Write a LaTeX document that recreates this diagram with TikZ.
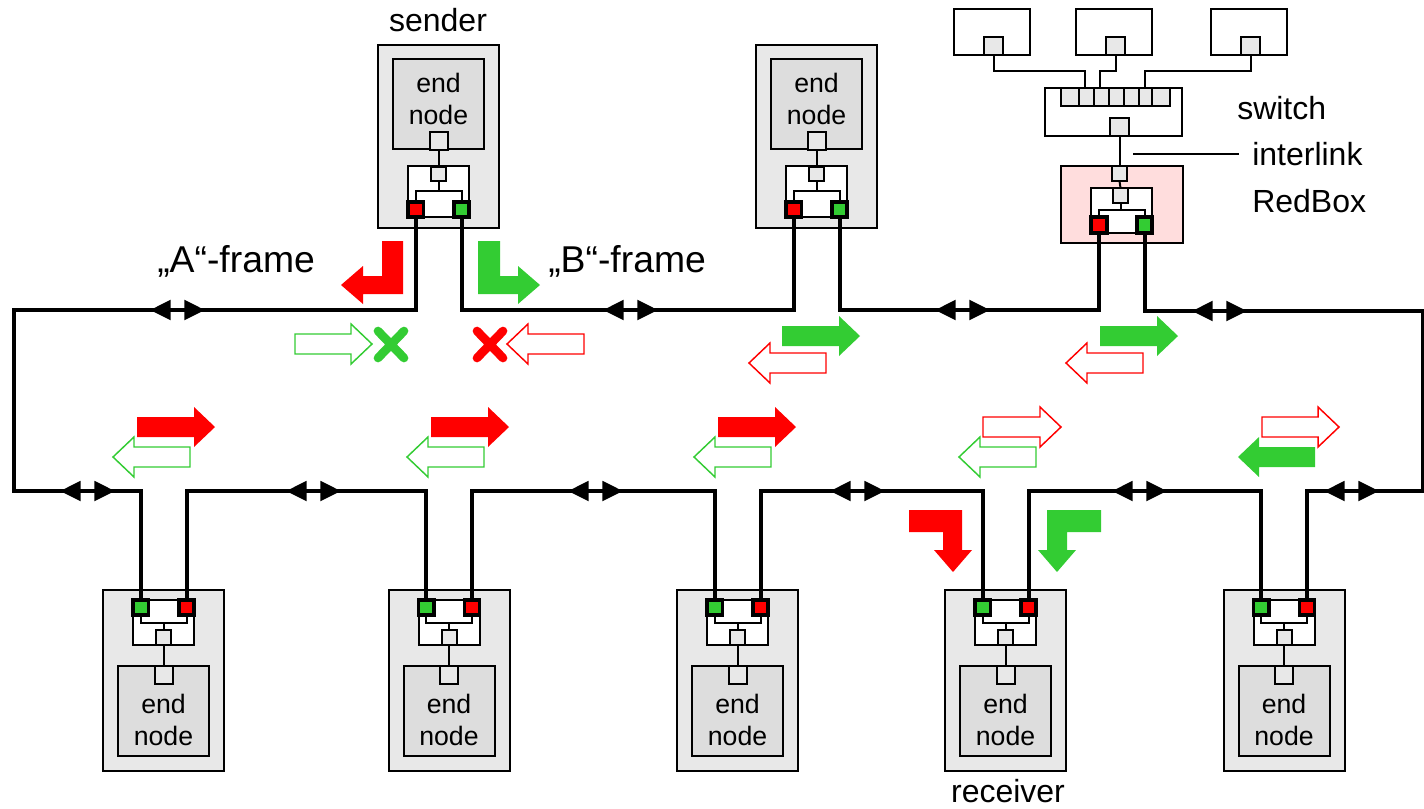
\documentclass[tikz,border=0pt]{standalone}
\usepackage{fontspec}
\setmainfont{Liberation Sans}
\usetikzlibrary{arrows.meta,calc}
\definecolor{hred}{HTML}{FF0000}
\definecolor{hgreen}{HTML}{33CC33}
\definecolor{outerg}{HTML}{E8E8E8}
\definecolor{endg}{HTML}{DDDDDD}
\definecolor{rbox}{HTML}{FFDDDD}
\tikzset{
  bx/.style={draw=black,line width=1.5pt,inner sep=0pt,outer sep=0pt},
  outerbox/.style={bx,fill=outerg},
  endbox/.style={bx,fill=endg},
  whitebox/.style={bx,fill=white},
  port/.style={bx,fill=outerg},
  redport/.style={bx,fill=hred,line width=2.3pt},
  greenport/.style={bx,fill=hgreen,line width=2.3pt},
  redboxbg/.style={bx,fill=rbox},
  wire/.style={draw=black,line width=1.5pt},
  ring/.style={draw=black,line width=3pt,line join=miter},
  dblarrow/.style={draw=black,line width=3pt,{Triangle[length=15.5pt,width=14.5pt]}-{Triangle[length=15.5pt,width=14.5pt]}},
  solidred/.style={fill=hred},
  solidgreen/.style={fill=hgreen},
  openred/.style={draw=hred,fill=white,line width=1.1pt},
  opengreen/.style={draw=hgreen,fill=white,line width=1.1pt},
  endtext/.style={align=center,inner sep=0pt,font=\fontsize{20}{24}\selectfont},
  label/.style={inner sep=0pt,font=\fontsize{24}{28}\selectfont},
  framelabel/.style={inner sep=0pt,font=\fontsize{28}{32}\selectfont},
}
% #1 name, #2-#5 x1 y1 x2 y2, #6 style
\newcommand{\bxn}[6]{\node[#6,minimum width={((#4)-(#2))*0.75pt},minimum height={((#5)-(#3))*0.75pt}] (#1) at ({((#2)+(#4))/2},{((#3)+(#5))/2}) {};}
\newcommand{\rarr}[4]{\path[#4] (#1,{#3-10}) -- ({#2-21},{#3-10}) -- ({#2-21},{#3-20}) -- (#2,#3) -- ({#2-21},{#3+20}) -- ({#2-21},{#3+10}) -- (#1,{#3+10}) -- cycle;}
\newcommand{\larr}[4]{\path[#4] (#2,{#3-10}) -- ({#1+21},{#3-10}) -- ({#1+21},{#3-20}) -- (#1,#3) -- ({#1+21},{#3+20}) -- ({#1+21},{#3+10}) -- (#2,{#3+10}) -- cycle;}
\newcommand{\crossm}[2]{\draw[#2,line width=6.5pt,line cap=round] ({#1-13},331) -- ({#1+13},358) ({#1+13},331) -- ({#1-13},358);}
\newcommand{\dbl}[3]{\coordinate (#1a) at ({#2-2},#3); \coordinate (#1b) at ({#2+53},#3); \draw[dblarrow] (#1a) -- (#1b);}
% top node: name, centre x
\newcommand{\topnode}[2]{%
  \bxn{#1-o}{#2-60.5}{45}{#2+60.5}{228}{outerbox}
  \bxn{#1-e}{#2-45.5}{59}{#2+45.5}{149}{endbox}
  \node[endtext] (#1-t) at (#2,99) {end\\node};
  \bxn{#1-p}{#2-9}{132}{#2+9}{150}{port}
  \bxn{#1-w}{#2-30.5}{166}{#2+30.5}{217}{whitebox}
  \coordinate (#1-j) at (#2,191);
  \bxn{#1-l}{#2-30.5}{202}{#2-15}{217}{redport}
  \bxn{#1-r}{#2+15.5}{202}{#2+30.5}{217}{greenport}
  \draw[wire] (#1-l.north) |- (#1-j) -| (#1-r.north);
  \bxn{#1-s}{#2-7.5}{167}{#2+7.5}{181}{port}
  \draw[wire] (#1-s.south) -- (#1-j);
  \draw[wire] (#1-p.south) -- (#1-s.north);
}
% bottom node: name, centre x
\newcommand{\botnode}[2]{%
  \bxn{#1-o}{#2-60.5}{590}{#2+60.5}{771}{outerbox}
  \bxn{#1-e}{#2-45.5}{666}{#2+45.5}{756}{endbox}
  \node[endtext] (#1-t) at (#2,720) {end\\node};
  \bxn{#1-p}{#2-9}{666}{#2+9}{684}{port}
  \bxn{#1-w}{#2-30.5}{600}{#2+30.5}{645}{whitebox}
  \coordinate (#1-j) at (#2,623);
  \bxn{#1-l}{#2-30.5}{600}{#2-15}{615}{greenport}
  \bxn{#1-r}{#2+15.5}{600}{#2+30.5}{615}{redport}
  \draw[wire] (#1-l.south) |- (#1-j) -| (#1-r.south);
  \bxn{#1-s}{#2-7.5}{630}{#2+7.5}{645}{port}
  \draw[wire] (#1-s.north) -- (#1-j);
  \draw[wire] (#1-s.south) -- (#1-p.north);
}
\begin{document}
\begin{tikzpicture}[x=0.75pt,y=-0.75pt]
\useasboundingbox (0,0) rectangle (1424,808);
% nodes
\topnode{a}{438.5}
\topnode{b}{816.5}
\botnode{n1}{163.5}
\botnode{n2}{449}
\botnode{n3}{737.5}
\botnode{n4}{1005.5}
\botnode{n5}{1284}
% RedBox
\bxn{rb-o}{1061}{166}{1183}{243}{redboxbg}
\bxn{rb-w}{1091}{188}{1152}{233}{whitebox}
\coordinate (rb-j) at (1120.5,210);
\bxn{rb-l}{1091}{217}{1107}{233}{redport}
\bxn{rb-r}{1137}{217}{1152}{233}{greenport}
\draw[wire] (rb-l.north) |- (rb-j) -| (rb-r.north);
\bxn{rb-p}{1112}{166}{1127}{181}{port}
\bxn{rb-s}{1113}{188}{1128}{203}{port}
\draw[wire] (rb-s.south) -- (rb-j);
\draw[wire] (rb-p.south) -- (rb-s.north);
% switch
\bxn{sw}{1045}{88}{1182}{136}{whitebox}
\bxn{c1}{1061}{88}{1079}{106}{port}
\bxn{c2}{1079}{88}{1094}{106}{port}
\bxn{c3}{1094}{88}{1109}{106}{port}
\bxn{c4}{1109}{88}{1124}{106}{port}
\bxn{c5}{1124}{88}{1139}{106}{port}
\bxn{c6}{1139}{88}{1152}{106}{port}
\bxn{c7}{1152}{88}{1170}{106}{port}
\bxn{sw-p}{1110}{118}{1129}{136}{port}
\draw[wire] (sw-p.south) -- (rb-p.north);
% attached devices
\bxn{d1}{954}{9}{1030}{55}{whitebox}
\bxn{d1-p}{984}{37}{1003}{55}{port}
\bxn{d2}{1076}{9}{1152}{55}{whitebox}
\bxn{d2-p}{1106}{37}{1125}{55}{port}
\bxn{d3}{1211}{9}{1287}{55}{whitebox}
\bxn{d3-p}{1241}{37}{1260}{55}{port}
\coordinate (j1) at (1085,88);
\coordinate (j2) at (1100,88);
\coordinate (j3) at (1145,88);
\draw[wire] (d1-p.south) -- ++(0,16) -| (j1);
\draw[wire] (d2-p.south) -- ++(0,16) -| (j2);
\draw[wire] (d3-p.south) -- ++(0,16) -| (j3);
% interlink leader
\coordinate (il1) at (1133,154);
\coordinate (il2) at (1239,154);
\draw[wire] (il1) -- (il2);
% ring
\coordinate (tl) at (14,310);
\coordinate (bl) at (14,491);
\coordinate (tr) at (1423,311);
\coordinate (br) at (1424,491);
\coordinate (bre) at (1423,491);
\draw[ring] (a-l.south) |- (tl) -- (bl) -| (n1-l.north);
\draw[ring] (n1-r.north) -- (n1-r.north |- bl) -| (n2-l.north);
\draw[ring] (n2-r.north) -- (n2-r.north |- bl) -| (n3-l.north);
\draw[ring] (n3-r.north) -- (n3-r.north |- bl) -| (n4-l.north);
\draw[ring] (n4-r.north) -- (n4-r.north |- bl) -| (n5-l.north);
\draw[ring] (n5-r.north) -- (n5-r.north |- bl) -- (br);
\draw[ring] (a-r.south) |- (b-l.south |- tl) -- (b-l.south);
\draw[ring] (b-r.south) |- (rb-l.south |- tl) -- (rb-l.south);
\draw[ring] (rb-r.south) |- (tr) -- (bre);
% double arrows on the ring
\dbl{t1}{152}{310}
\dbl{t2}{605}{310}
\dbl{t3}{937}{310}
\dbl{t4}{1194}{311}
\dbl{u1}{62}{491}
\dbl{u2}{288}{491}
\dbl{u3}{570}{491}
\dbl{u4}{832}{491}
\dbl{u5}{1114}{491}
\dbl{u6}{1326}{491}
% block arrows
\rarr{137}{215}{427}{solidred}
\rarr{431}{509}{427}{solidred}
\rarr{718}{796}{427}{solidred}
\rarr{983}{1061}{427}{openred}
\rarr{1262}{1339}{427}{openred}
\larr{113}{190}{457}{opengreen}
\larr{407}{484}{457}{opengreen}
\larr{694}{771}{457}{opengreen}
\larr{959}{1036}{457}{opengreen}
\larr{1238}{1315}{457}{solidgreen}
\rarr{782}{860}{336}{solidgreen}
\rarr{1100}{1178}{336}{solidgreen}
\larr{749}{826}{363}{openred}
\larr{1066}{1143}{363}{openred}
\rarr{295}{372}{344}{opengreen}
\larr{507}{584}{344}{openred}
\crossm{391}{hgreen}
\crossm{490}{hred}
% bent arrows
\path[solidred] (403,241) -- (382,241) -- (382,276) -- (363,276) -- (363,266) -- (341,285) -- (363,304) -- (363,294) -- (403,294) -- cycle;
\path[solidgreen] (478,241) -- (500,241) -- (500,276) -- (518,276) -- (518,266) -- (540,285) -- (518,304) -- (518,294) -- (478,294) -- cycle;
\path[solidred] (909,510) -- (962,510) -- (962,550) -- (972,550) -- (953,572) -- (934,550) -- (943,550) -- (943,532) -- (909,532) -- cycle;
\path[solidgreen] (1101,510) -- (1047,510) -- (1047,550) -- (1038,550) -- (1057,572) -- (1076,550) -- (1067,550) -- (1067,532) -- (1101,532) -- cycle;
% labels
\node[label] (lsender) at (438,20) {sender};
\node[label] (lreceiver) at (1008,791) {receiver};
\node[label,anchor=west] (lswitch) at (1237,108) {switch};
\node[label,anchor=west] (linter) at (1252,154) {interlink};
\node[label,anchor=west] (lred) at (1252,201) {RedBox};
\node[framelabel,anchor=west] (lA) at (157,261) {„A“-frame};
\node[framelabel,anchor=west] (lB) at (548,261) {„B“-frame};
\end{tikzpicture}
\end{document}
